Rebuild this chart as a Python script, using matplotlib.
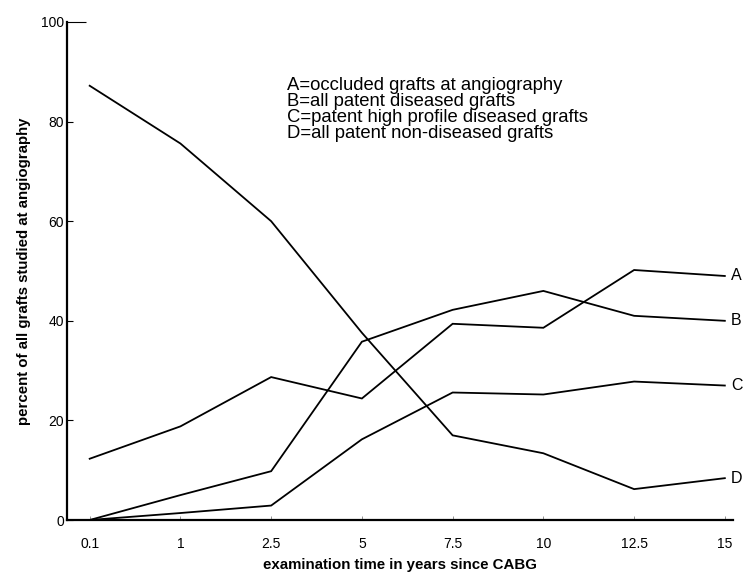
import matplotlib
matplotlib.use("Agg")
import matplotlib.pyplot as plt
import numpy as np

plt.rcParams['font.family'] = ['Liberation Sans', 'DejaVu Sans']

# examination times (categorical, equally spaced on the chart)
years = ['0.1', '1', '2.5', '5', '7.5', '10', '12.5', '15']

# percent of all grafts studied at angiography
occluded = [12.3, 18.8, 28.7, 24.4, 39.4, 38.6, 50.2, 49.0]          # A
patent_diseased = [0.0, 5.0, 9.8, 35.8, 42.2, 46.0, 41.0, 40.0]      # B
high_profile = [0.0, 1.4, 2.9, 16.2, 25.6, 25.2, 27.8, 27.0]         # C
non_diseased = [87.2, 75.6, 60.0, 37.6, 17.0, 13.4, 6.2, 8.4]        # D

series_names = ['A', 'B', 'C', 'D']
legend_lines = ['A=occluded grafts at angiography',
                'B=all patent diseased grafts',
                'C=patent high profile diseased grafts',
                'D=all patent non-diseased grafts']

fig = plt.figure(figsize=(7.43, 5.77), dpi=100)
ax = fig.add_axes([67 / 743, 1 - 520 / 577, (733 - 67) / 743, (520 - 22) / 577])

x = np.arange(len(years))
for name, vals in zip(series_names, [occluded, patent_diseased, high_profile, non_diseased]):
    ax.plot(x, vals, color='black', lw=1.3, solid_joinstyle='miter')
    # label at the end of each line
    ax.annotate(name, xy=(x[-1], vals[-1]), xytext=(4.3, 0), textcoords='offset points',
                fontsize=11.5, va='center', ha='left', annotation_clip=False)

ax.set_xlim(-0.25, 7.09)
ax.set_ylim(0, 100)

ax.spines['top'].set_visible(False)
ax.spines['right'].set_visible(False)
ax.spines['left'].set_linewidth(1.6)
ax.spines['bottom'].set_linewidth(1.6)

ax.set_xticks(x)
ax.set_xticklabels(years, fontsize=10)
ax.tick_params(axis='x', direction='in', length=3, width=0.6, color='0.5', pad=12)

ax.set_yticks([0, 20, 40, 60, 80, 100])
ax.set_yticklabels(['0', '20', '40', '60', '80', '100'], fontsize=10)
ax.tick_params(axis='y', direction='in', length=4, width=0.8, pad=2)
ax.yaxis.get_major_ticks()[-1].tick1line.set_markersize(14)

ax.set_xlabel('examination time in years since CABG', fontsize=10.8, fontweight='bold')
ax.xaxis.set_label_coords(0.5, -(565 - 520) / 498)
ax.xaxis.label.set_va('center')
ax.set_ylabel('percent of all grafts studied at angiography', fontsize=10.8, fontweight='bold')
ax.yaxis.set_label_coords(-(67 - 24) / 666, 0.5)
ax.yaxis.label.set_va('center')

# description block
for i, line in enumerate(legend_lines):
    fig.text(287 / 743, 1 - (85 + 16.3 * i) / 577, line, fontsize=13.3, va='center', ha='left')

fig.savefig('out.png', dpi=100)
